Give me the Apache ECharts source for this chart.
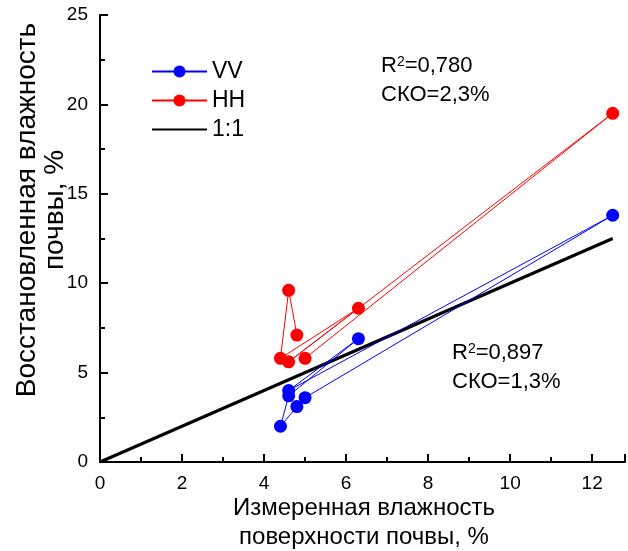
<!DOCTYPE html>
<html>
<head>
<meta charset="utf-8">
<script src="https://cdn.jsdelivr.net/npm/echarts@6/dist/echarts.min.js"></script>
<style>
  html, body { margin: 0; padding: 0; background: #fff; }
  #chart { width: 628px; height: 551px; }
</style>
</head>
<body>
<div id="chart"></div>
<script>
// Measured vs retrieved soil moisture, %
const vvMeasured  = [4.8, 4.4, 4.6, 6.3, 4.6, 12.5, 5.0];
const vvRetrieved = [3.1, 2.0, 3.7, 6.9, 4.0, 13.8, 3.6];
const hhMeasured  = [4.8, 4.6, 4.4, 6.3, 4.6, 12.5, 5.0];
const hhRetrieved = [7.1, 9.6, 5.8, 8.6, 5.6, 19.5, 5.8];
const identityEnds = [0, 12.5];

const seriesNames = ['VV', 'HH', '1:1'];
const xTicks = [0, 2, 4, 6, 8, 10, 12];
const yTicks = [0, 5, 10, 15, 20, 25];

const FONT = '"Liberation Sans", Arial, sans-serif';

const pairs = (xs, ys) => xs.map((x, i) => [x, ys[i]]);

function makeAxis(extra) {
  return Object.assign({
    type: 'value',
    axisLine: { show: true, lineStyle: { color: '#000', width: 2 } },
    axisTick: { show: true, inside: true, length: 8, lineStyle: { color: '#000', width: 2 } },
    minorTick: { show: true, splitNumber: 2, length: 5, lineStyle: { color: '#000', width: 2 } },
    splitLine: { show: false }
  }, extra);
}

const chart = echarts.init(document.getElementById('chart'), null, { renderer: 'canvas' });

const supRich = {
  a: { fontSize: 22, fontFamily: FONT, color: '#000' },
  s: { fontSize: 14, fontFamily: FONT, color: '#000', verticalAlign: 'top' }
};

chart.setOption({
  animation: false,
  backgroundColor: '#fff',
  grid: { left: 100, right: 0, top: 15, bottom: 89 },
  xAxis: makeAxis({
    min: xTicks[0], max: 12.8, interval: 2,
    axisLabel: {
      color: '#000', fontSize: 19, fontFamily: FONT, margin: 12,
      formatter: v => (xTicks.indexOf(v) >= 0 ? String(v) : '')
    }
  }),
  yAxis: makeAxis({
    min: yTicks[0], max: yTicks[yTicks.length - 1], interval: 5,
    axisLabel: { color: '#000', fontSize: 19, fontFamily: FONT, margin: 12 }
  }),
  legend: {
    orient: 'vertical',
    left: 146, top: 55,
    itemWidth: 55, itemHeight: 15, itemGap: 6,
    data: [
      { name: seriesNames[0] },
      { name: seriesNames[1] },
      { name: seriesNames[2], itemStyle: { color: 'rgba(0,0,0,0)', borderWidth: 0 } }
    ],
    textStyle: { color: '#000', fontSize: 23, fontFamily: FONT, lineHeight: 23 }
  },
  graphic: [
    { id: 'r2hh', type: 'text', left: 381, top: 55,
      style: { text: '{a|R}{s|2}{a|=0,780}', rich: supRich } },
    { id: 'rmsehh', type: 'text', left: 381, top: 84,
      style: { text: 'СКО=2,3%', font: '22px ' + FONT, fill: '#000' } },
    { id: 'r2vv', type: 'text', left: 452, top: 342,
      style: { text: '{a|R}{s|2}{a|=0,897}', rich: supRich } },
    { id: 'rmsevv', type: 'text', left: 452, top: 371,
      style: { text: 'СКО=1,3%', font: '22px ' + FONT, fill: '#000' } },
    { id: 'xTitle', type: 'text', x: 364, y: 494,
      style: { text: 'Измеренная влажность\nповерхности почвы, %', font: '24px ' + FONT,
        lineHeight: 29, fill: '#000', align: 'center', verticalAlign: 'top' } },
    { id: 'yTitle', type: 'text', x: 41, y: 210, rotation: Math.PI / 2,
      style: { text: 'Восстановленная влажность\nпочвы, %', font: '28px ' + FONT,
        lineHeight: 28, fill: '#000', align: 'center', verticalAlign: 'middle' } }
  ],
  series: [
    {
      name: seriesNames[0], type: 'line',
      data: pairs(vvMeasured, vvRetrieved),
      symbol: 'circle', symbolSize: 13,
      itemStyle: { color: '#0000ff' },
      lineStyle: { color: '#0000ff', width: 1 },
      z: 3
    },
    {
      name: seriesNames[1], type: 'line',
      data: pairs(hhMeasured, hhRetrieved),
      symbol: 'circle', symbolSize: 13,
      itemStyle: { color: '#ff0000' },
      lineStyle: { color: '#ff0000', width: 1 },
      z: 3
    },
    {
      name: seriesNames[2], type: 'line',
      data: pairs(identityEnds, identityEnds),
      symbol: 'none',
      itemStyle: { color: '#000' },
      lineStyle: { color: '#000', width: 3 },
      z: 2
    }
  ]
});

// Left frame line of the plot, placed through the grid's own scales.
const frameBottom = chart.convertToPixel({ gridIndex: 0 }, [xTicks[0], yTicks[0]]);
const frameTop = chart.convertToPixel({ gridIndex: 0 }, [xTicks[0], yTicks[yTicks.length - 1]]);
if (frameBottom && frameTop) {
  chart.setOption({
    graphic: [{
      id: 'leftFrame', type: 'line', z: 100,
      shape: { x1: frameBottom[0], y1: frameBottom[1] + 1, x2: frameTop[0], y2: frameTop[1] },
      style: { stroke: '#000', lineWidth: 2 }
    }]
  });
}
</script>
</body>
</html>
